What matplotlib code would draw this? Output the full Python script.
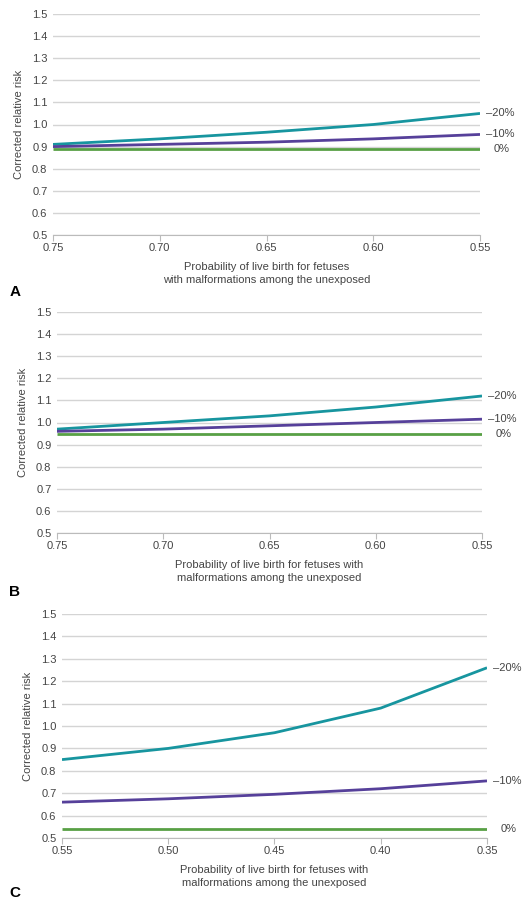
import numpy as np
from matplotlib import pyplot as plt

# probabilities of live birth (x) for each panel
x_ab = [0.75, 0.70, 0.65, 0.60, 0.55]
x_c = [0.55, 0.50, 0.45, 0.40, 0.35]

# corrected relative risk, panel A
a_m20 = [0.91, 0.935, 0.965, 1.00, 1.05]
a_m10 = [0.90, 0.91, 0.92, 0.935, 0.955]
a_0 = [0.89, 0.89, 0.89, 0.89, 0.89]

# panel B
b_m20 = [0.97, 1.00, 1.03, 1.07, 1.12]
b_m10 = [0.96, 0.97, 0.985, 1.00, 1.015]
b_0 = [0.95, 0.95, 0.95, 0.95, 0.95]

# panel C
c_m20 = [0.85, 0.90, 0.97, 1.08, 1.26]
c_m10 = [0.66, 0.675, 0.695, 0.72, 0.755]
c_0 = [0.54, 0.54, 0.54, 0.54, 0.54]

series_labels = ['\u201320%', '\u201310%', '0%']
yticks = np.round(np.arange(0.5, 1.51, 0.1), 1)

teal = '#17959f'
purple = '#56409a'
green = '#58a045'
grey = '#444444'

plt.rcParams['font.family'] = ['Liberation Sans', 'DejaVu Sans']

fig = plt.figure(figsize=(5.26, 9.02), dpi=100)

panels = [
    ('A', [53/526, 1-235/902, 427/526, 221/902], x_ab, [a_m20, a_m10, a_0],
     'Probability of live birth for fetuses\nwith malformations among the unexposed', 292),
    ('B', [57/526, 1-533/902, 425/526, 221/902], x_ab, [b_m20, b_m10, b_0],
     'Probability of live birth for fetuses with\nmalformations among the unexposed', 592),
    ('C', [62/526, 1-838/902, 425/526, 224/902], x_c, [c_m20, c_m10, c_0],
     'Probability of live birth for fetuses with\nmalformations among the unexposed', 893),
]

for letter, pos, xs, ys, xlab, ly in panels:
    ax = fig.add_axes(pos)
    for vals, col, lab in zip(ys, [teal, purple, green], series_labels):
        ax.plot(xs, vals, color=col, lw=2, solid_capstyle='butt', zorder=3)
        dx = 10 if lab == '0%' else 4
        ax.annotate(lab, (xs[-1], vals[-1]), xytext=(dx, 0), textcoords='offset points',
                    va='center', ha='left', fontsize=8, color=grey, annotation_clip=False)
    ax.set_xlim(xs[0], xs[-1])
    ax.set_ylim(0.5, 1.5)
    ax.set_xticks(xs)
    ax.set_xticklabels(['%.2f' % v for v in xs])
    ax.set_yticks(yticks)
    ax.set_yticklabels(['%.1f' % v for v in yticks])
    ax.grid(axis='y', color='#d4d4d4', lw=1)
    ax.set_axisbelow(True)
    for s in ['top', 'right', 'left']:
        ax.spines[s].set_visible(False)
    ax.spines['bottom'].set_color('#bbbbbb')
    ax.tick_params(axis='y', length=0, labelsize=8, labelcolor=grey, pad=4)
    ax.tick_params(axis='x', length=4, color='#bbbbbb', labelsize=8, labelcolor=grey, pad=2)
    ax.set_xlabel(xlab, fontsize=8, color=grey, labelpad=6, linespacing=1.45)
    ax.set_ylabel('Corrected relative risk', fontsize=8, color=grey, labelpad=6)
    fig.text(15/526, 1-ly/902, letter, fontsize=11, fontweight='bold', va='center', ha='center')

fig.savefig('out.png', dpi=100)
